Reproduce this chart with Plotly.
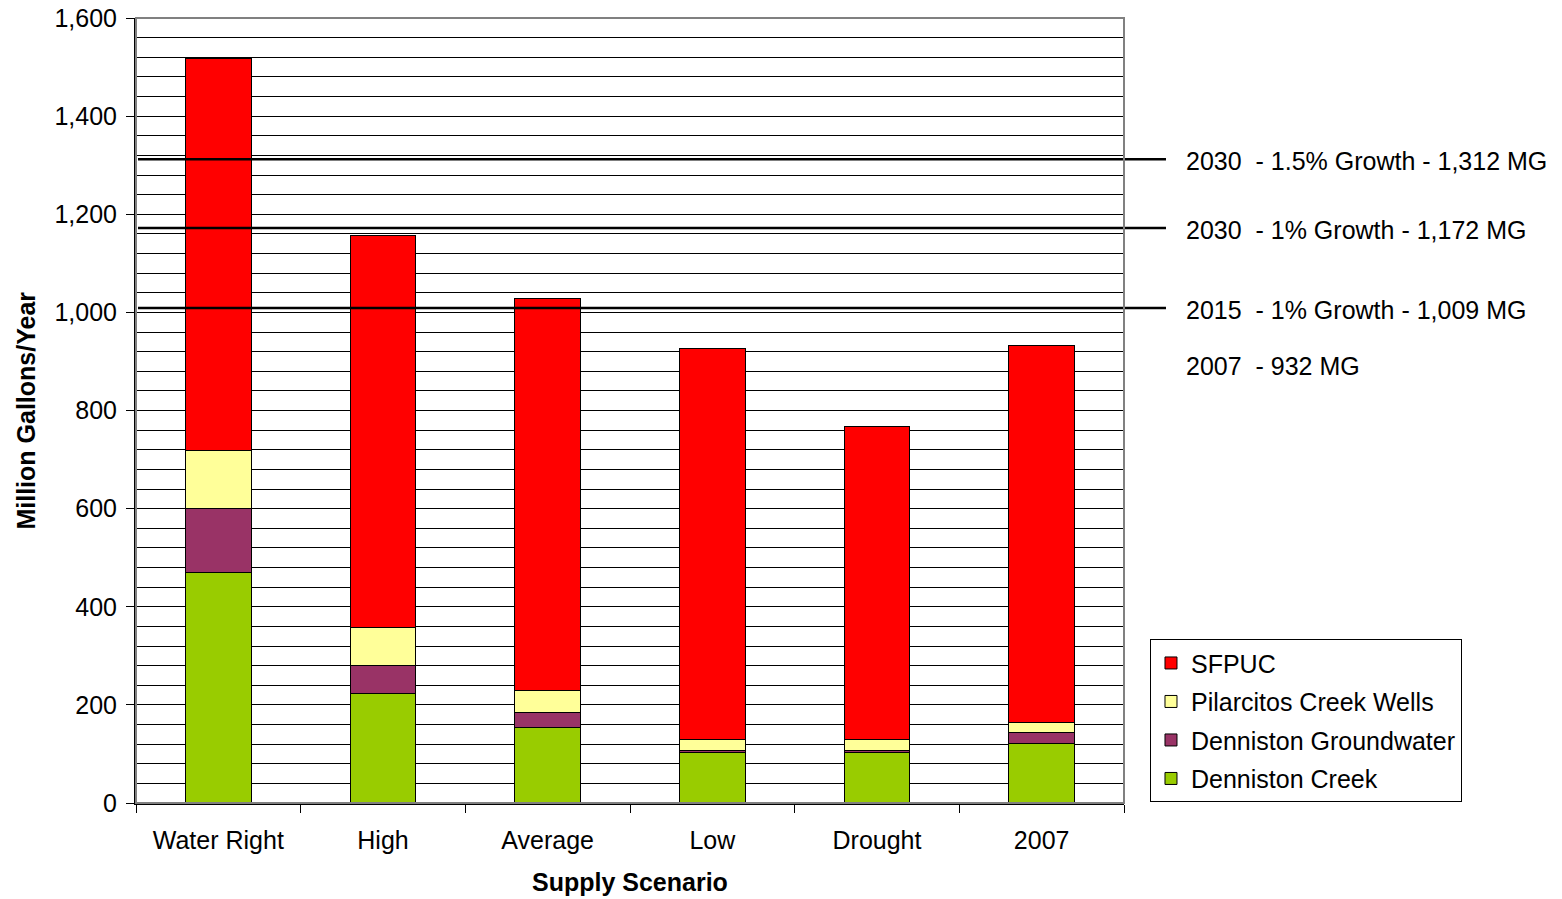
import plotly.graph_objects as go

# Supply scenarios and water source volumes (million gallons / year)
scenarios = ["Water Right", "High", "Average", "Low", "Drought", "2007"]
denniston_creek = [470, 224, 154, 103, 103, 121]
denniston_groundwater = [130, 56, 31, 5, 5, 22]
pilarcitos_wells = [118, 78, 45, 21, 21, 21]
sfpuc = [800, 798, 799, 798, 639, 768]

# Demand reference levels
demand_values = [1312, 1172, 1009]
demand_labels = [
    "2030\u00a0\u00a0- 1.5% Growth - 1,312 MG",
    "2030\u00a0\u00a0- 1% Growth - 1,172 MG",
    "2015\u00a0\u00a0- 1% Growth - 1,009 MG",
]
current_value = 932
current_label = "2007\u00a0\u00a0- 932 MG"

# (name, values, colour, legend rank) - stacked bottom to top
series = [
    ("Denniston Creek", denniston_creek, "#99CC00", 4),
    ("Denniston Groundwater", denniston_groundwater, "#993366", 3),
    ("Pilarcitos Creek Wells", pilarcitos_wells, "#FFFF99", 2),
    ("SFPUC", sfpuc, "#FF0000", 1),
]

fig = go.Figure()
for name, vals, color, rank in series:
    fig.add_trace(go.Bar(
        x=scenarios, y=vals, name=name, legendgroup=name, legendrank=rank,
        marker=dict(color=color, line=dict(color="#000000", width=1)),
    ))

font = "Arial, Liberation Sans, sans-serif"
fs = 25

# Horizontal demand lines extending past the plot area
for v, lab in zip(demand_values, demand_labels):
    fig.add_shape(type="line", xref="paper", yref="y", x0=0.002, x1=1.0425,
                  y0=v, y1=v, line=dict(color="#000000", width=2.5))
    fig.add_annotation(xref="paper", yref="y", x=1.0608, y=v, text=lab,
                       showarrow=False, xanchor="left", yanchor="middle",
                       yshift=-2, font=dict(family=font, size=fs, color="#000"))
fig.add_annotation(xref="paper", yref="y", x=1.0608, y=current_value,
                   text=current_label, showarrow=False, xanchor="left",
                   yanchor="middle", yshift=-20,
                   font=dict(family=font, size=fs, color="#000"))

# Axis titles
fig.add_annotation(xref="paper", yref="paper", x=0.5, y=-0.1006,
                   text="<b>Supply Scenario</b>", showarrow=False,
                   xanchor="center", yanchor="middle",
                   font=dict(family=font, size=fs, color="#000"))
fig.add_annotation(xref="paper", yref="paper", x=-0.1123, y=0.5,
                   text="<b>Million Gallons/Year</b>", showarrow=False,
                   textangle=-90, xanchor="center", yanchor="middle",
                   font=dict(family=font, size=fs, color="#000"))

# Plot frame: grey top and right edges
fig.add_shape(type="rect", xref="paper", yref="paper", x0=0, x1=1, y0=0, y1=1,
              line=dict(color="#808080", width=2), layer="above")

fig.update_layout(
    width=1562, height=899,
    margin=dict(l=136, r=438, t=18, b=96),
    barmode="stack", bargap=0.6,
    plot_bgcolor="#FFFFFF", paper_bgcolor="#FFFFFF",
    font=dict(family=font, size=fs, color="#000"),
    legend=dict(
        x=1.0263, y=0.001, xanchor="left", yanchor="bottom",
        traceorder="grouped", bordercolor="#000000", borderwidth=1,
        bgcolor="#FFFFFF", font=dict(family=font, size=fs, color="#000"),
        tracegroupgap=3, itemwidth=30,
    ),
    xaxis=dict(
        automargin=False,
        tickson="boundaries", ticks="outside", ticklen=8, tickcolor="#000",
        showline=True, linecolor="#000", linewidth=2,
        tickfont=dict(size=fs), showgrid=False, ticklabelstandoff=14,
    ),
    yaxis=dict(
        automargin=False,
        range=[0, 1600], dtick=200, tickformat=",",
        ticks="outside", ticklen=8, tickcolor="#000",
        showline=True, linecolor="#000", linewidth=2,
        showgrid=True, gridcolor="#000", gridwidth=1,
        minor=dict(dtick=40, showgrid=True, gridcolor="#000", gridwidth=1),
        tickfont=dict(size=fs), zeroline=False, ticklabelstandoff=4,
    ),
)

fig.write_html("out.html")
